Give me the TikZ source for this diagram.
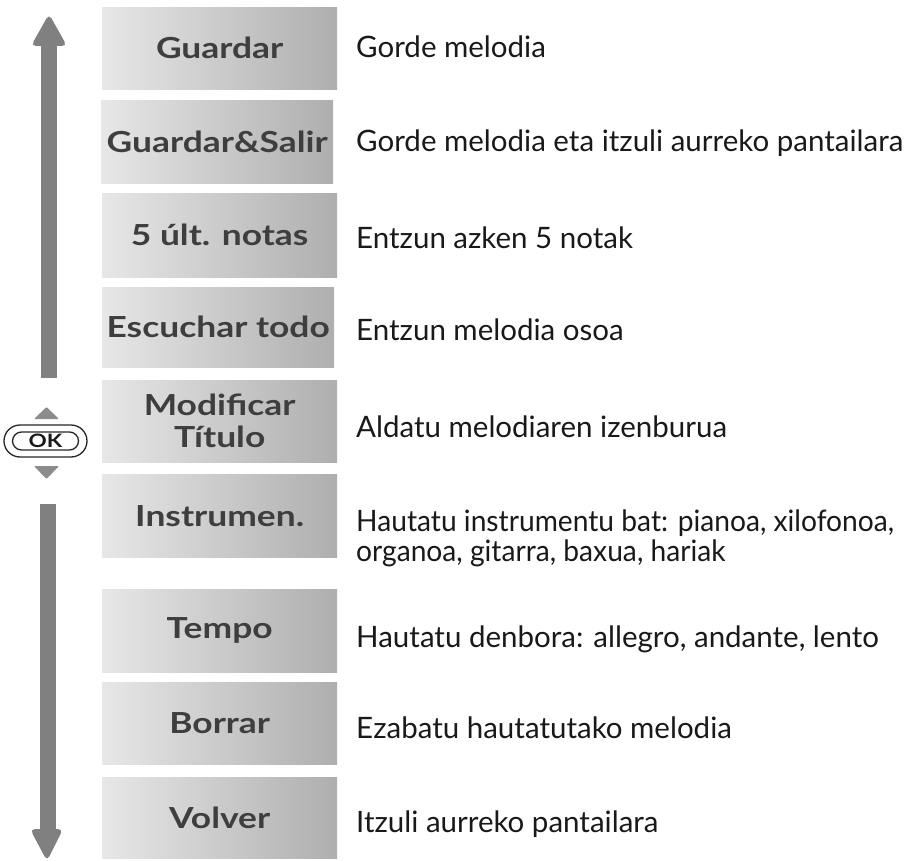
\documentclass[tikz,border=0pt]{standalone}
\usepackage{fontspec}
\setmainfont{Lato}
\newfontfamily\boxfont[FakeStretch=1.22]{Lato}
\newfontfamily\descnarrow[FakeStretch=0.955]{Lato}
\definecolor{barcol}{RGB}{128,128,128}
\definecolor{tricol}{RGB}{140,140,140}
\definecolor{boxend}{RGB}{146,146,146}
\definecolor{labelcol}{RGB}{62,62,62}
\definecolor{textcol}{RGB}{25,25,25}
\pgfdeclarehorizontalshading{boxshade}{100bp}{color(0bp)=(white); color(4bp)=(white); color(100bp)=(boxend)}
\tikzset{
  menubox/.style={shading=boxshade, inner sep=0pt, anchor=north west,
    font=\boxfont\fontsize{29}{32}\selectfont\bfseries, text=labelcol, align=center},
  desc/.style={inner sep=0pt, anchor=base west, text=textcol,
    font=\fontsize{29.5}{30}\selectfont},
  okring/.style={draw=black!85, line width=1.3pt},
}
\begin{document}
\begin{tikzpicture}[x=1pt,y=-1pt]
\useasboundingbox (0,0) rectangle (915,861);
% menu boxes
\node[menubox, minimum width=235pt, minimum height=82pt] (b1) at (102,7) {Guardar};
\node[menubox, minimum width=232pt, minimum height=83pt] (b2) at (101,100) {Guardar\&Salir};
\node[menubox, minimum width=235pt, minimum height=84pt] (b3) at (102,193) {5 últ. notas};
\node[menubox, minimum width=232pt, minimum height=80pt] (b4) at (102,287) {Escuchar todo};
\node[menubox, minimum width=235pt, minimum height=82pt] (b5) at (102,380) {Modificar\\Título};
\node[menubox, minimum width=235pt, minimum height=83pt] (b6) at (102,474) {Instrumen.};
\node[menubox, minimum width=235pt, minimum height=83pt] (b7) at (102,589) {Tempo};
\node[menubox, minimum width=235pt, minimum height=82pt] (b8) at (102,682) {Borrar};
\node[menubox, minimum width=235pt, minimum height=81pt] (b9) at (102,777) {Volver};
% descriptions
\node[desc] (d1) at (356,58) {Gorde melodia};
\node[desc] (d2) at (356,152) {Gorde melodia eta itzuli aurreko pantailara};
\node[desc] (d3) at (356,248) {Entzun azken 5 notak};
\node[desc] (d4) at (356,340) {Entzun melodia osoa};
\node[desc] (d5) at (356,437) {Aldatu melodiaren izenburua};
\node[desc, anchor=west, align=left, font=\descnarrow\fontsize{29.5}{30}\selectfont] (d6) at (356,538) {Hautatu instrumentu bat: pianoa, xilofonoa,\\organoa, gitarra, baxua, hariak};
\node[desc] (d7) at (356,647) {Hautatu denbora: allegro, andante, lento};
\node[desc] (d8) at (356,738) {Ezabatu hautatutako melodia};
\node[desc] (d9) at (356,832) {Itzuli aurreko pantailara};
% up arrow
\fill[barcol] (41,378) rectangle (57,42);
\fill[barcol, rounded corners=5pt] (31,46) -- (49,14) -- (67,46) -- cycle;
% down arrow
\fill[barcol] (40,504) rectangle (56,833);
\fill[barcol, rounded corners=5pt] (30,829) -- (63,829) -- (47,861) -- cycle;
% OK button
\fill[tricol, rounded corners=1pt] (34,419) -- (46.5,407) -- (59,419) -- cycle;
\fill[tricol, rounded corners=1pt] (34,466) -- (59,466) -- (46.5,479) -- cycle;
\node[okring, rounded corners=16pt, minimum width=83pt, minimum height=32pt, inner sep=0pt] (okout) at (45.5,441) {};
\node[okring, rounded corners=9pt, minimum width=66pt, minimum height=18pt, inner sep=0pt,
  font=\boxfont\fontsize{18.5}{18}\selectfont\bfseries, text=black!90] (okin) at (okout.center) {OK};
\end{tikzpicture}
\end{document}
